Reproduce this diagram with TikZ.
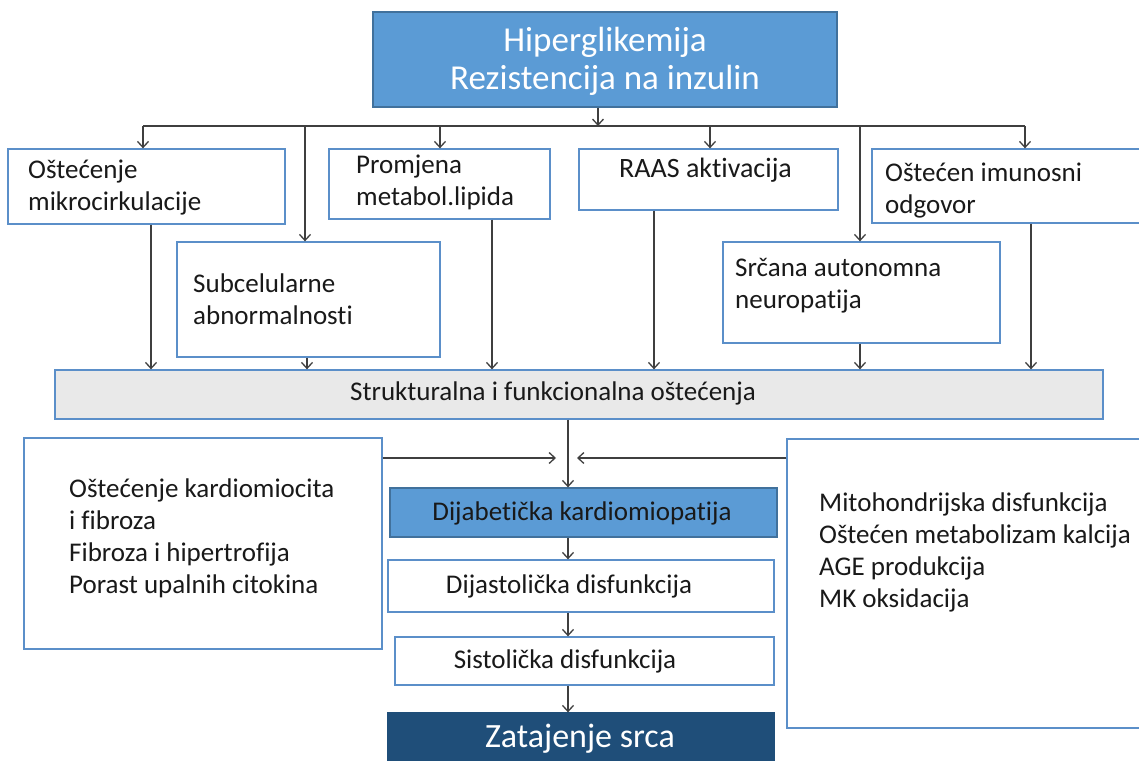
\documentclass[tikz,border=0pt]{standalone}
\usepackage{fontspec}
\setmainfont{Carlito}[Ligatures=NoCommon]
\usetikzlibrary{arrows.meta}
\definecolor{mblue}{HTML}{5B9BD5}
\definecolor{dblue}{HTML}{41719C}
\definecolor{lineblue}{HTML}{5B8FC9}
\definecolor{navy}{HTML}{1F4E79}
\definecolor{barfill}{HTML}{E9E9E9}
\definecolor{arrgray}{HTML}{3F3F3F}
\tikzset{
  wbox/.style={draw=lineblue, line width=1.3pt, fill=white, inner sep=0pt},
  bluebox/.style={draw=dblue, line width=1.3pt, fill=mblue, inner sep=0pt},
  navybox/.style={draw=navy, line width=1.3pt, fill=navy, inner sep=0pt},
  barbox/.style={draw=lineblue, line width=1.3pt, fill=barfill, inner sep=0pt},
  txt/.style={inner sep=0pt, align=left, font=\fontsize{27}{32}\selectfont, text=black!90},
  ctxt/.style={inner sep=0pt, align=center, font=\fontsize{27}{32}\selectfont, text=black!90},
  arr/.style={draw=arrgray, line width=1.5pt, -{Straight Barb[length=6pt,width=11pt,line width=1.3pt]}},
  conn/.style={draw=arrgray, line width=1.5pt},
  mainarr/.style={draw=arrgray, line width=2.6pt, -{Straight Barb[length=6pt,width=11pt,line width=1.3pt]}}
}
\begin{document}
\begin{tikzpicture}[x=1pt,y=-1pt]
\useasboundingbox (0,0) rectangle (1139,760);
\clip (0,0) rectangle (1139,760);

% top box
\node[bluebox, minimum width=464pt, minimum height=95pt] (top) at (605,59.5) {};
\node[ctxt, text=white, font=\fontsize{35}{38}\selectfont] (toptxt) at (605,61) {Hiperglikemija\\Rezistencija na inzulin};

% first row boxes
\node[wbox, minimum width=277pt, minimum height=75pt] (b1) at (146.5,186.5) {};
\node[txt, anchor=west] (b1t) at (28,188) {Oštećenje\\mikrocirkulacije};
\node[wbox, minimum width=221pt, minimum height=70pt] (b2) at (439.5,184) {};
\node[txt, anchor=west] (b2t) at (356,182) {Promjena\\metabol.lipida};
\node[wbox, minimum width=259pt, minimum height=61pt] (b3) at (708.5,179.5) {};
\node[txt, anchor=west, font=\fontsize{28}{32}\selectfont] (b3t) at (619,170) {RAAS aktivacija};
\node[wbox, minimum width=278pt, minimum height=74pt] (b4) at (1011,186) {};
\node[txt, anchor=west] (b4t) at (885,191) {Oštećen imunosni\\odgovor};

% second row boxes
\node[wbox, minimum width=263pt, minimum height=115pt] (b5) at (308.5,299.5) {};
\node[txt, anchor=west] (b5t) at (193,299) {Subcelularne\\abnormalnosti};
\node[wbox, minimum width=277pt, minimum height=101pt] (b6) at (861.5,292.5) {};
\node[txt, anchor=west] (b6t) at (735,286) {Srčana autonomna\\neuropatija};

% bar
\node[barbox, minimum width=1048pt, minimum height=49pt] (bar) at (579,394.5) {};
\node[ctxt] (bart) at (553,393) {Strukturalna i funkcionalna oštećenja};

% side boxes
\node[wbox, minimum width=358pt, minimum height=211pt] (L) at (203,543.5) {};
\node[txt, anchor=west] (Lt) at (69,538.5) {Oštećenje kardiomiocita\\i fibroza\\Fibroza i hipertrofija\\Porast upalnih citokina};
\node[wbox, minimum width=363pt, minimum height=289pt] (R) at (968.5,583.5) {};
\node[txt, anchor=west] (Rt) at (819,552.5) {Mitohondrijska disfunkcija\\Oštećen metabolizam kalcija\\AGE produkcija\\MK oksidacija};

% central chain
\node[bluebox, minimum width=387pt, minimum height=49pt] (dk) at (583.5,512.5) {};
\node[ctxt] (dkt) at (582,513) {Dijabetička kardiomiopatija};
\node[wbox, minimum width=386pt, minimum height=52pt] (dj) at (581,586) {};
\node[ctxt] (djt) at (569,586) {Dijastolička disfunkcija};
\node[wbox, minimum width=379pt, minimum height=48pt] (si) at (584.5,661) {};
\node[ctxt] (sit) at (565,661) {Sistolička disfunkcija};
\node[navybox, minimum width=386pt, minimum height=57pt] (zt) at (581,741.5) {};
\node[ctxt, text=white, font=\fontsize{34}{38}\selectfont] (ztt) at (580,739) {Zatajenje srca};

% bus coordinates
\coordinate (t0) at (598,0);
\coordinate (d1) at (143,126);
\coordinate (d5) at (305,126);
\coordinate (d2) at (440,126);
\coordinate (d3) at (710,126);
\coordinate (d6) at (860,126);
\coordinate (d4) at (1025,126);
\coordinate (u1) at (151,0);
\coordinate (u5) at (307,0);
\coordinate (u2) at (492,0);
\coordinate (u3) at (654,0);
\coordinate (u6) at (860,0);
\coordinate (u4) at (1031,0);
\coordinate (m) at (568,0);
\coordinate (la) at (556,458);
\coordinate (ra) at (577,458);

% bus
\draw[conn] (d1) -- (d4);
\draw[arr] (t0 |- top.south) -- (t0 |- d1);
\draw[arr] (d1) -- (d1 |- b1.north);
\draw[arr] (d5) -- (d5 |- b5.north);
\draw[arr] (d2) -- (d2 |- b2.north);
\draw[arr] (d3) -- (d3 |- b3.north);
\draw[arr] (d6) -- (d6 |- b6.north);
\draw[arr] (d4) -- (d4 |- b4.north);

% into bar
\draw[arr] (u1 |- b1.south) -- (u1 |- bar.north);
\draw[arr] (u5 |- b5.south) -- (u5 |- bar.north);
\draw[arr] (u2 |- b2.south) -- (u2 |- bar.north);
\draw[arr] (u3 |- b3.south) -- (u3 |- bar.north);
\draw[arr] (u6 |- b6.south) -- (u6 |- bar.north);
\draw[arr] (u4 |- b4.south) -- (u4 |- bar.north);

% main chain
\draw[mainarr] (m |- bar.south) -- (m |- dk.north);
\draw[arr] (L.east |- la) -- (la);
\draw[arr] (R.west |- ra) -- (ra);
\draw[mainarr] (m |- dk.south) -- (m |- dj.north);
\draw[mainarr] (m |- dj.south) -- (m |- si.north);
\draw[mainarr] (m |- si.south) -- (m |- zt.north);
\end{tikzpicture}
\end{document}
